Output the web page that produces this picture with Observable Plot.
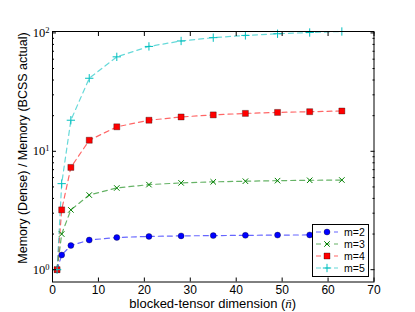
<!DOCTYPE html>
<html>
<head>
<meta charset="utf-8">
<script src="https://cdn.jsdelivr.net/npm/d3@7"></script>
<script src="https://cdn.jsdelivr.net/npm/@observablehq/plot@0.6"></script>
<style>
  html, body { margin: 0; padding: 0; background: white; }
  #chart { position: relative; width: 415px; height: 312px; }
  #legend { position: absolute; left: 312px; top: 224px; width: 55px; height: 51px;
            border: 1px solid black; background: white; }
</style>
</head>
<body>
<div id="chart"></div>
<script>
// ---- data ----
const dims = [1, 2, 4, 8, 14, 21, 28, 35, 42, 49, 56, 63];
const seriesNames = ["m=2", "m=3", "m=4", "m=5"];
const valuesM2 = [1.00, 1.33, 1.60, 1.78, 1.87, 1.91, 1.93, 1.94, 1.95, 1.96, 1.965, 1.97];
const valuesM3 = [1.00, 2.00, 3.20, 4.27, 4.90, 5.23, 5.41, 5.52, 5.59, 5.65, 5.69, 5.72];
const valuesM4 = [1.00, 3.20, 7.31, 12.4, 16.1, 18.3, 19.5, 20.3, 20.9, 21.3, 21.6, 21.9];
const valuesM5 = [1.00, 5.33, 18.3, 41.4, 62.8, 76.9, 85.5, 91.2, 95.3, 98.4, 100.8, 102.8];
const xTicks = [0, 10, 20, 30, 40, 50, 60, 70];
const yMajor = [1, 10, 100];
const yMinor = [2, 3, 4, 5, 6, 7, 8, 9, 20, 30, 40, 50, 60, 70, 80, 90];
const colors = ["#0000ff", "#008000", "#ff0000", "#00bfbf"];
const symbols = ["circle", "times", "square", "plus"];

const allValues = [valuesM2, valuesM3, valuesM4, valuesM5];
const table = [];
seriesNames.forEach((s, i) => dims.forEach((n, j) => table.push({series: s, n, v: allValues[i][j]})));

const symR = {circle: 3, square: 3.4, times: 2.6, plus: 2.8};

const lineMarks = seriesNames.map((s, i) =>
  Plot.line(table.filter(d => d.series === s), {
    x: "n", y: "v", stroke: colors[i], strokeWidth: 1.2,
    strokeDasharray: "5,4", strokeOpacity: 0.6
  }));
const dotMarks = seriesNames.map((s, i) => {
  const data = table.filter(d => d.series === s);
  const sym = symbols[i];
  if (sym === "circle" || sym === "square")
    return Plot.dot(data, {x: "n", y: "v", symbol: sym, r: symR[sym], fill: colors[i], stroke: "black", strokeWidth: 0.7, strokeOpacity: 0.45});
  return Plot.dot(data, {x: "n", y: "v", symbol: sym, r: symR[sym], stroke: colors[i], strokeWidth: 1});
});

const plot = Plot.plot({
  width: 415, height: 312,
  marginLeft: 52, marginRight: 41.5, marginTop: 31, marginBottom: 30.5,
  x: {domain: [0, 70]},
  y: {type: "log", domain: [0.787, 102.8]},
  style: {fontFamily: "'Liberation Sans', Arial, sans-serif", fontSize: "12px", color: "black", background: "white"},
  marks: [
    ...lineMarks,
    ...dotMarks,
    Plot.frame({stroke: "black", strokeWidth: 1}),
    // x ticks (inward, bottom & top)
    Plot.axisX(xTicks, {anchor: "bottom", tickSize: 4, dy: -4, text: null, label: null}),
    Plot.axisX(xTicks, {anchor: "top", tickSize: 4, dy: 4, text: null, label: null}),
    Plot.axisX(xTicks, {anchor: "bottom", tickSize: 0, tickPadding: 3, label: null, tickFormat: d => String(d)}),
    // y ticks (inward, left & right)
    Plot.axisY(yMajor, {anchor: "left", tickSize: 4, dx: 4, text: null, label: null}),
    Plot.axisY(yMajor, {anchor: "right", tickSize: 4, dx: -4, text: null, label: null}),
    Plot.axisY(yMinor, {anchor: "left", tickSize: 2, dx: 2, text: null, label: null}),
    Plot.axisY(yMinor, {anchor: "right", tickSize: 2, dx: -2, text: null, label: null}),
    Plot.axisY(yMajor, {anchor: "left", tickSize: 0, tickPadding: 3, label: null, tickFormat: d => "10^" + Math.round(Math.log10(d))})
  ]
});

document.getElementById("chart").appendChild(plot);
const svg = d3.select(plot);

// superscript y tick labels in serif
svg.selectAll('g[aria-label="y-axis tick label"] text').each(function() {
  const t = d3.select(this);
  const [base, exp] = t.text().split("^");
  t.text(null).style("font-family", "'Liberation Serif', 'DejaVu Serif', serif").style("font-size", "12.5px");
  t.append("tspan").text(base);
  t.append("tspan").text(exp).attr("dy", "-0.45em").style("font-size", "8.5px");
});

// axis labels
const xr = plot.scale("x").range;
const xl = svg.append("text")
  .attr("x", (xr[0] + xr[1]) / 2).attr("y", 308)
  .attr("text-anchor", "middle")
  .style("font-family", "'Liberation Sans', Arial, sans-serif").style("font-size", "13px");
xl.append("tspan").text("blocked-tensor dimension (");
xl.append("tspan").text("n\u0304").style("font-family", "'Liberation Serif', 'DejaVu Serif', serif").style("font-style", "italic");
xl.append("tspan").text(")");

svg.append("text")
  .attr("transform", `translate(27,148) rotate(-90)`)
  .attr("text-anchor", "middle")
  .style("font-family", "'Liberation Sans', Arial, sans-serif").style("font-size", "12.5px")
  .text("Memory (Dense) / Memory (BCSS actual)");

// legend
const legend = d3.select("#chart").append("div").attr("id", "legend");
const lsvg = legend.append("svg").attr("width", 55).attr("height", 51);
const symMap = {circle: d3.symbolCircle, times: d3.symbolTimes, square: d3.symbolSquare, plus: d3.symbolPlus};
seriesNames.forEach((s, i) => {
  const y = 7 + i * 12;
  const g = lsvg.append("g");
  g.append("line").attr("x1", 3).attr("x2", 25).attr("y1", y).attr("y2", y)
    .attr("stroke", colors[i]).attr("stroke-width", 1.2).attr("stroke-dasharray", "5,4").attr("stroke-opacity", 0.6);
  const sym = symbols[i];
  const r = symR[sym];
  const path = g.append("path").attr("transform", `translate(14,${y})`)
    .attr("d", d3.symbol(symMap[sym], Math.PI * r * r)());
  if (sym === "circle" || sym === "square")
    path.attr("fill", colors[i]).attr("stroke", "black").attr("stroke-width", 0.7).attr("stroke-opacity", 0.45);
  else
    path.attr("fill", "none").attr("stroke", colors[i]).attr("stroke-width", 1);
  g.append("text").attr("x", 31).attr("y", y).attr("dy", "0.35em")
    .style("font-family", "'Liberation Sans', Arial, sans-serif").style("font-size", "10.5px")
    .text(s);
});
</script>
</body>
</html>
